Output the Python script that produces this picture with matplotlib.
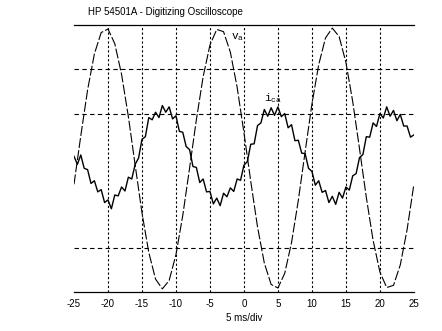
import numpy as np
import matplotlib
matplotlib.use("Agg")
import matplotlib.pyplot as plt

# values in screen divisions
va = [-0.58, 0.51, 1.54, 2.35, 2.83, 2.91, 2.58, 1.89, 0.94, -0.15,
      -1.22, -2.11, -2.71, -2.93, -2.74, -2.16, -1.28, -0.22, 0.87, 1.84,
      2.55, 2.90, 2.85, 2.39, 1.60, 0.58, -0.51, -1.54, -2.35, -2.83,
      -2.91, -2.58, -1.89, -0.94, 0.15, 1.22, 2.11, 2.71, 2.93, 2.74,
      2.16, 1.28, 0.22, -0.87, -1.84, -2.55, -2.90, -2.85, -2.39, -1.60,
      -0.58]

ica = [0.05, -0.13, 0.08, -0.22, -0.25, -0.56, -0.50, -0.75, -0.70, -0.99,
       -0.93, -1.13, -0.82, -0.84, -0.64, -0.73, -0.42, -0.46, -0.13, 0.01,
       0.43, 0.49, 0.92, 0.87, 1.04, 0.92, 1.19, 1.04, 1.16, 0.89,
       0.96, 0.61, 0.59, 0.27, 0.20, -0.18, -0.20, -0.54, -0.46, -0.75,
       -0.74, -1.02, -0.89, -1.06, -0.78, -0.86, -0.66, -0.74, -0.46, -0.49,
       -0.15, -0.07, 0.32, 0.33, 0.74, 0.80, 1.10, 0.95, 1.14, 0.97,
       1.16, 0.94, 1.01, 0.69, 0.76, 0.40, 0.41, 0.12, 0.11, -0.22,
       -0.29, -0.60, -0.50, -0.76, -0.72, -0.99, -0.85, -1.03, -0.76, -0.89,
       -0.64, -0.71, -0.39, -0.34, 0.02, 0.09, 0.49, 0.48, 0.80, 0.72,
       1.01, 0.91, 1.16, 0.95, 1.08, 0.85, 0.99, 0.73, 0.73, 0.48,
       0.53]

t_va = np.linspace(-25, 25, len(va))
t_ica = np.linspace(-25, 25, len(ica))

xticks = [-25, -20, -15, -10, -5, 0, 5, 10, 15, 20, 25]
vgrid = [-20, -15, -10, -5, 0, 5, 10, 15, 20]
hgrid = [2, 1, -2]

plt.rcParams['font.family'] = ['Liberation Sans', 'DejaVu Sans']

fig = plt.figure(figsize=(4.42, 3.31), dpi=100)
ax = fig.add_axes([0.1674, 0.1178, 0.769, 0.8067])

for x in vgrid:
    ax.axvline(x, color='black', lw=0.8, linestyle=(0, (2, 2)), zorder=1)
for y in hgrid:
    ax.axhline(y, color='black', lw=0.8, linestyle=(0, (4, 3)), zorder=1)

ax.plot(t_va, va, color='black', lw=0.8, linestyle=(0, (9, 2)), zorder=2)
ax.plot(t_ica, ica, color='black', lw=1.0, zorder=3)

ax.set_xlim(-25, 25)
ax.set_ylim(-3, 3)
ax.set_xticks(xticks)
ax.set_xticklabels([str(v) for v in xticks], fontsize=7)
ax.set_yticks([])
ax.tick_params(axis='x', length=0, pad=5)
ax.set_xlabel("5 ms/div", fontsize=7, labelpad=3)
for s in ['left', 'right']:
    ax.spines[s].set_visible(False)
for s in ['top', 'bottom']:
    ax.spines[s].set_linewidth(0.9)

ax.text(-1.9, 2.68, r'$\mathregular{v_a}$', fontsize=8, family='Liberation Mono')
ax.text(3.0, 1.28, r'$\mathregular{i_{ca}}$', fontsize=8, family='Liberation Mono')

fig.text(88 / 442, 1 - 12 / 331, "HP 54501A - Digitizing Oscilloscope",
         fontsize=7, va='center', ha='left')

fig.savefig("out.png", dpi=100)
